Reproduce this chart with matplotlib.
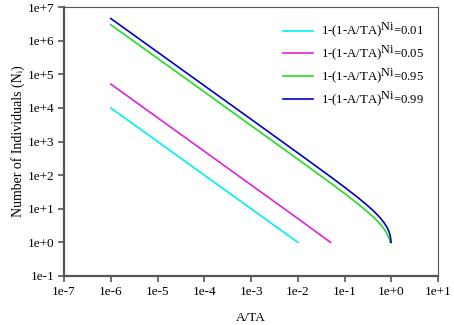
import numpy as np
import matplotlib.pyplot as plt
import matplotlib._mathtext as mt

plt.rcParams['font.family'] = ['Liberation Serif', 'DejaVu Serif']
plt.rcParams['mathtext.fontset'] = 'custom'
plt.rcParams['mathtext.rm'] = 'Liberation Serif'
plt.rcParams['mathtext.it'] = 'Liberation Serif:italic'
# the superscript in the legend is nearly full size in the original
mt.SHRINK_FACTOR = 0.95

# values
x_001 = [1e-6, 1e-4, 1e-2]
y_001 = [1.0e4, 100.0, 1.0]

x_005 = [1e-6, 1e-4, 1e-2, 0.05]
y_005 = [5.13e4, 513.0, 5.1, 1.0]

x_095 = [1e-6, 1e-4, 1e-3, 1e-2, 0.05, 0.1, 0.2, 0.3, 0.4, 0.5, 0.6, 0.7, 0.8, 0.9, 0.95]
y_095 = [3.0e6, 3.0e4, 2995, 298, 58.4, 28.4, 13.4, 8.4, 5.86, 4.32, 3.27, 2.49, 1.86, 1.30, 1.0]

x_099 = [1e-6, 1e-4, 1e-3, 1e-2, 0.05, 0.1, 0.2, 0.3, 0.4, 0.5, 0.6, 0.7, 0.8, 0.9, 0.95, 0.99]
y_099 = [4.6e6, 4.6e4, 4603, 458, 89.8, 43.7, 20.6, 12.9, 9.01, 6.64, 5.03, 3.82, 2.86, 2.0, 1.54, 1.0]

labels = ['0.01', '0.05', '0.95', '0.99']
colors = ['#00f0f0', '#dd22dd', '#22dd22', '#0000cc']

xticks = [1e-7, 1e-6, 1e-5, 1e-4, 1e-3, 1e-2, 1e-1, 1e0, 1e1]
xlabels = ['1e-7', '1e-6', '1e-5', '1e-4', '1e-3', '1e-2', '1e-1', '1e+0', '1e+1']
yticks = [1e-1, 1e0, 1e1, 1e2, 1e3, 1e4, 1e5, 1e6, 1e7]
ylabels = ['1e-1', '1e+0', '1e+1', '1e+2', '1e+3', '1e+4', '1e+5', '1e+6', '1e+7']

fig = plt.figure(figsize=(4.54, 3.25), dpi=100)
ax = fig.add_axes([0.141, 0.151, 0.824, 0.827])

series = [(x_001, y_001), (x_005, y_005), (x_095, y_095), (x_099, y_099)]
for (xs, ys), lab, c in zip(series, labels, colors):
    ax.plot(xs, ys, color=c, lw=1.2, label=r'1-(1-A/TA)$^{\mathrm{Ni}}$=' + lab)

ax.set_xscale('log')
ax.set_yscale('log')
ax.set_xlim(1e-7, 1e1)
ax.set_ylim(1e-1, 1e7)
ax.set_xticks(xticks)
ax.set_xticklabels(xlabels)
ax.set_yticks(yticks)
ax.set_yticklabels(ylabels)
ax.minorticks_off()
ax.tick_params(direction='out', length=4, width=1.2, color='#555555', labelsize=9.5, pad=3)

for s in ['left', 'bottom']:
    ax.spines[s].set_linewidth(1.6)
    ax.spines[s].set_color('#555555')
for s in ['top', 'right']:
    ax.spines[s].set_linewidth(0.8)
    ax.spines[s].set_color('#555555')

ax.set_xlabel('A/TA', fontsize=9.5, labelpad=10)
ax.set_ylabel('Number of Individuals (N\u1d62)', fontsize=10, labelpad=2)

ax.legend(loc='upper right', frameon=False, fontsize=9.2, handlelength=2.35,
          handletextpad=0.62, labelspacing=0.3, borderaxespad=0,
          bbox_to_anchor=(0.976, 0.967))

fig.savefig('out.png', dpi=100)
